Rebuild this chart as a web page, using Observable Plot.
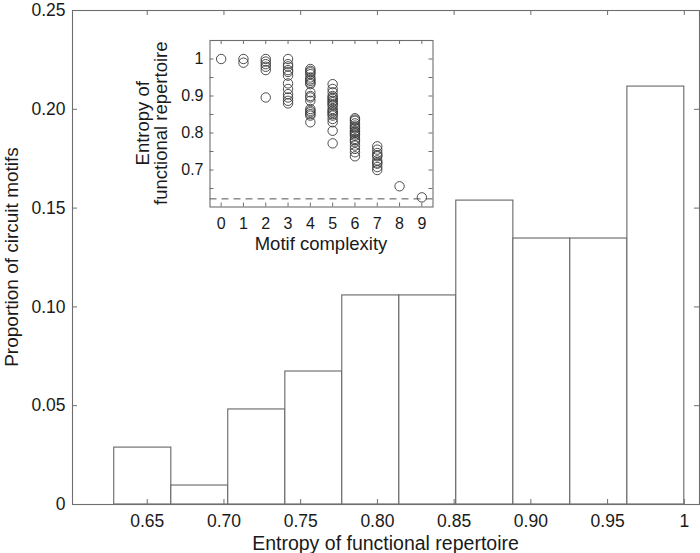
<!DOCTYPE html>
<html>
<head>
<meta charset="utf-8">
<script src="https://cdn.jsdelivr.net/npm/d3@7"></script>
<script src="https://cdn.jsdelivr.net/npm/@observablehq/plot@0.6"></script>
<style>
  html, body { margin: 0; padding: 0; background: white; }
  #chart { position: relative; width: 700px; height: 553px; font-family: "Liberation Sans", Arial, Helvetica, sans-serif; }
  #chart svg { position: absolute; }
</style>
</head>
<body>
<div id="chart"></div>
<script>
// ---------- data ----------
// histogram (main)
const binEdges = [0.6285, 0.6657, 0.7028, 0.7400, 0.7771, 0.8143, 0.8514, 0.8886, 0.9257, 0.9629, 1.0000];
const proportions = [0.0288, 0.0096, 0.0481, 0.0673, 0.1058, 0.1058, 0.1538, 0.1346, 0.1346, 0.2115];
const mainXTicks = [0.65, 0.70, 0.75, 0.80, 0.85, 0.90, 0.95, 1.00];
const mainXTickLabels = ["0.65", "0.70", "0.75", "0.80", "0.85", "0.90", "0.95", "1"];
const mainYTicks = [0, 0.05, 0.10, 0.15, 0.20, 0.25];
const mainYTickLabels = ["0", "0.05", "0.10", "0.15", "0.20", "0.25"];

// inset scatter: entropy of functional repertoire by motif complexity
const complexity = [
  0,
  1, 1,
  2, 2, 2, 2, 2, 2,
  3, 3, 3, 3, 3, 3, 3, 3, 3, 3, 3, 3,
  4, 4, 4, 4, 4, 4, 4, 4, 4, 4, 4, 4, 4, 4, 4, 4, 4, 4, 4,
  5, 5, 5, 5, 5, 5, 5, 5, 5, 5, 5, 5, 5, 5, 5, 5, 5, 5, 5,
  6, 6, 6, 6, 6, 6, 6, 6, 6, 6, 6, 6, 6, 6, 6, 6, 6, 6, 6,
  7, 7, 7, 7, 7, 7, 7, 7, 7, 7,
  8,
  9
];
const entropy = [
  1.000,
  1.000, 0.990,
  1.000, 0.993, 0.986, 0.979, 0.970, 0.896,
  1.000, 0.986, 0.980, 0.970, 0.965, 0.955, 0.934, 0.919, 0.905, 0.896, 0.887, 0.880,
  0.973, 0.968, 0.964, 0.959, 0.950, 0.945, 0.941, 0.936, 0.932, 0.910, 0.900, 0.896, 0.887, 0.865, 0.860, 0.856, 0.851, 0.847, 0.829,
  0.932, 0.919, 0.910, 0.900, 0.896, 0.892, 0.887, 0.883, 0.878, 0.874, 0.865, 0.860, 0.856, 0.851, 0.847, 0.838, 0.829, 0.806, 0.772,
  0.840, 0.836, 0.833, 0.826, 0.820, 0.815, 0.812, 0.806, 0.803, 0.800, 0.796, 0.792, 0.784, 0.780, 0.775, 0.766, 0.757, 0.748, 0.737,
  0.764, 0.755, 0.746, 0.740, 0.737, 0.726, 0.720, 0.717, 0.708, 0.700,
  0.656,
  0.626
];
const minEntropy = [0.622];
const insetXTicks = [0, 1, 2, 3, 4, 5, 6, 7, 8, 9];
const insetYMinorTicks = [0.65, 0.70, 0.75, 0.80, 0.85, 0.90, 0.95, 1.00];
const insetYTicks = [0.7, 0.8, 0.9, 1.0];
const insetYTickLabels = ["0.7", "0.8", "0.9", "1"];

// ---------- tables ----------
const bins = proportions.map((p, i) => ({x1: binEdges[i], x2: binEdges[i + 1], y: p}));
const points = complexity.map((c, i) => ({c, e: entropy[i]}));

const FONT = '"Liberation Sans", Arial, Helvetica, sans-serif';
const frameCol = "#6e6e6e";
const textCol = "#1a1a1a";

// ---------- main histogram ----------
const W = 700, H = 553;
const mL = 72, mR = 1, mT = 10, mB = 49;
const fw = W - mL - mR, fh = H - mT - mB;
const tick = 5;

const main = Plot.plot({
  width: W, height: H,
  marginLeft: mL, marginRight: mR, marginTop: mT, marginBottom: mB,
  style: {fontFamily: FONT, color: textCol, background: "white", overflow: "visible"},
  x: {domain: [0.6013, 1.0099]},
  y: {domain: [0, 0.25]},
  marks: [
    Plot.rect(bins, {x1: "x1", x2: "x2", y1: 0, y2: "y", fill: "white", stroke: "#666", strokeWidth: 1.1}),
    Plot.ruleX(mainXTicks, {x: d => d, insetTop: fh - tick, stroke: frameCol}),
    Plot.ruleX(mainXTicks, {x: d => d, insetBottom: fh - tick, stroke: frameCol}),
    Plot.ruleY(mainYTicks, {y: d => d, insetRight: fw - tick, stroke: frameCol}),
    Plot.ruleY(mainYTicks, {y: d => d, insetLeft: fw - tick, stroke: frameCol}),
    Plot.axisX(mainXTicks, {tickSize: 0, tickPadding: 10, fontSize: 17.5, fill: textCol,
      tickFormat: d => mainXTickLabels[mainXTicks.indexOf(d)], label: null}),
    Plot.axisY(mainYTicks, {tickSize: 0, tickPadding: 7, fontSize: 17.5, fill: textCol,
      tickFormat: d => mainYTickLabels[mainYTicks.indexOf(d)], label: null}),
    Plot.frame({stroke: frameCol, strokeWidth: 1.1})
  ]
});
main.style.left = "0px";
main.style.top = "0px";
document.getElementById("chart").appendChild(main);

const ms = d3.select(main);
ms.append("text")
  .attr("x", mL + fw / 2).attr("y", 550)
  .attr("text-anchor", "middle")
  .attr("font-size", 19.5).attr("fill", textCol).attr("font-family", FONT)
  .text("Entropy of functional repertoire");
ms.append("text")
  .attr("transform", `translate(18,${mT + fh / 2}) rotate(-90)`)
  .attr("text-anchor", "middle")
  .attr("font-size", 19).attr("fill", textCol).attr("font-family", FONT)
  .text("Proportion of circuit motifs");

// ---------- inset scatter ----------
const iLeft = 120, iTop = 30, iW = 320, iH = 230;
const imL = 89.5, imR = 7.5, imT = 10, imB = 53.5;
const ifw = iW - imL - imR, ifh = iH - imT - imB;
const itick = 4;

const inset = Plot.plot({
  width: iW, height: iH,
  marginLeft: imL, marginRight: imR, marginTop: imT, marginBottom: imB,
  style: {fontFamily: FONT, color: textCol, background: "transparent", overflow: "visible"},
  x: {domain: [-0.5, 9.5]},
  y: {domain: [0.6, 1.05]},
  marks: [
    Plot.ruleY(minEntropy, {y: d => d, stroke: "#555", strokeDasharray: "7,5", strokeWidth: 1}),
    Plot.dot(points, {x: "c", y: "e", r: 4.7, stroke: "#3a3a3a", strokeWidth: 0.9, fill: "none"}),
    Plot.ruleX(insetXTicks, {x: d => d, insetTop: ifh - itick, stroke: frameCol}),
    Plot.ruleX(insetXTicks, {x: d => d, insetBottom: ifh - itick, stroke: frameCol}),
    Plot.ruleY(insetYMinorTicks, {y: d => d, insetRight: ifw - itick, stroke: frameCol}),
    Plot.ruleY(insetYMinorTicks, {y: d => d, insetLeft: ifw - itick, stroke: frameCol}),
    Plot.axisX(insetXTicks, {tickSize: 0, tickPadding: 10.5, fontSize: 16, fill: textCol, label: null,
      tickFormat: d => String(d)}),
    Plot.axisY(insetYTicks, {tickSize: 0, tickPadding: 6.5, fontSize: 16, fill: textCol, label: null,
      tickFormat: d => insetYTickLabels[insetYTicks.indexOf(d)]}),
    Plot.frame({stroke: frameCol, strokeWidth: 1.1})
  ]
});
inset.style.left = iLeft + "px";
inset.style.top = iTop + "px";
document.getElementById("chart").appendChild(inset);

const is = d3.select(inset);
is.append("text")
  .attr("x", imL + ifw / 2).attr("y", 220)
  .attr("text-anchor", "middle")
  .attr("font-size", 18.5).attr("fill", textCol).attr("font-family", FONT)
  .text("Motif complexity");
is.append("text")
  .attr("transform", `translate(29,${imT + ifh / 2}) rotate(-90)`)
  .attr("text-anchor", "middle")
  .attr("font-size", 18.5).attr("fill", textCol).attr("font-family", FONT)
  .text("Entropy of");
is.append("text")
  .attr("transform", `translate(47,${imT + ifh / 2}) rotate(-90)`)
  .attr("text-anchor", "middle")
  .attr("font-size", 18.5).attr("fill", textCol).attr("font-family", FONT)
  .text("functional repertoire");
</script>
</body>
</html>
